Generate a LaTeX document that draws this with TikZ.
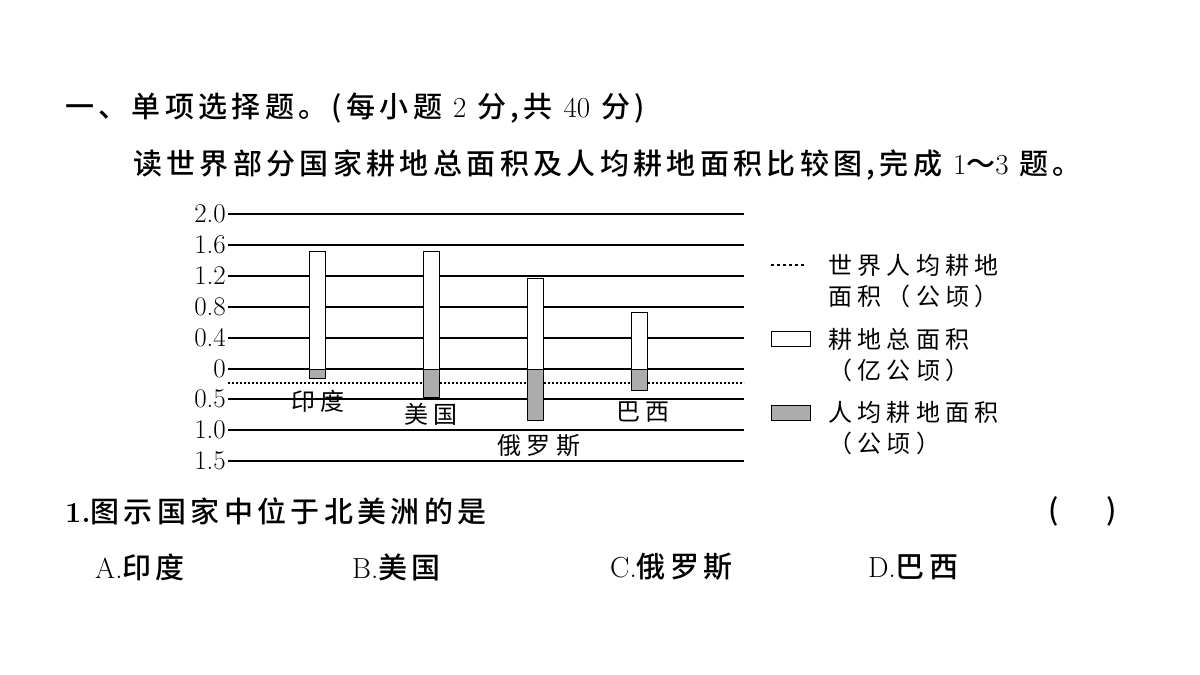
\documentclass[tikz,border=0pt]{standalone}
\usepackage{fontspec}
\newfontfamily\cjk[LetterSpace=15]{Noto Sans CJK SC Medium}
\newfontfamily\cjkl[LetterSpace=22]{Noto Sans CJK SC}
\begin{document}
\begin{tikzpicture}[x=1pt,y=-1pt,
  grid/.style={line width=1.2pt},
  tick/.style={anchor=east,font=\fontsize{27}{27}\selectfont,inner sep=0pt},
  bar/.style={draw,line width=0.9pt,fill=white},
  neg/.style={draw,line width=0.9pt,fill=gray!65},
  lab/.style={font=\cjkl\fontsize{24}{24}\selectfont,inner sep=0pt},
  lg/.style={font=\cjkl\fontsize{24}{24}\selectfont,anchor=west,inner sep=0pt},
  head/.style={font=\cjk\fontsize{29}{29}\selectfont,anchor=west,inner sep=0pt}]
\useasboundingbox (0,0) rectangle (1200,675);
\node[head] (h1) at (65,108) {一、单项选择题。(每小题 {\rmfamily 2} 分,共 {\rmfamily 40} 分)};
\node[head] (h2) at (133,165) {读世界部分国家耕地总面积及人均耕地面积比较图,完成 {\rmfamily 1}～{\rmfamily 3} 题。};
\foreach \y/\t in {214/2.0,245/1.6,276/1.2,307/0.8,338/0.4,369/0,399/0.5,430/1.0,461/1.5}{
  \draw[grid] (228,\y) -- (744,\y);
  \node[tick] at (226,\y) {\t};
}
\draw[line width=1.3pt,dash pattern=on 2pt off 2pt] (228,383) -- (744,383);
\draw[bar] (309,251) rectangle (325,369);
\draw[neg] (309,369) rectangle (325,378);
\draw[bar] (423,251) rectangle (439,369);
\draw[neg] (423,369) rectangle (439,397);
\draw[bar] (527,278) rectangle (543,369);
\draw[neg] (527,369) rectangle (543,420);
\draw[bar] (631,312) rectangle (647,369);
\draw[neg] (631,369) rectangle (647,390);
\node[lab] (in) at (318,401) {印度};
\node[lab] (us) at (431,414) {美国};
\node[lab] (ru) at (539,446) {俄罗斯};
\node[lab] (br) at (643,412) {巴西};
\draw[line width=1.3pt,dash pattern=on 3pt off 3pt] (771,265) -- (805,265);
\node[lg] at (828,265) {世界人均耕地};
\node[lg] at (828,296) {面积（公顷）};
\draw[bar] (771,331) rectangle (810,346);
\node[lg] at (828,339) {耕地总面积};
\node[lg] at (828,370) {（亿公顷）};
\draw[neg] (771,405) rectangle (810,420);
\node[lg] at (828,412) {人均耕地面积};
\node[lg] at (828,443) {（公顷）};
\node[head] (q) at (65,511) {{\rmfamily\bfseries 1.}图示国家中位于北美洲的是};
\node[head] (br1) at (1048,511) {(\hspace{48pt})};
\node[head] (a) at (95,567) {{\rmfamily A.}印度};
\node[head] (b) at (352,567) {{\rmfamily B.}美国};
\node[head] (c) at (610,567) {{\rmfamily C.}俄罗斯};
\node[head] (d) at (868,567) {{\rmfamily D.}巴西};
\end{tikzpicture}
\end{document}
